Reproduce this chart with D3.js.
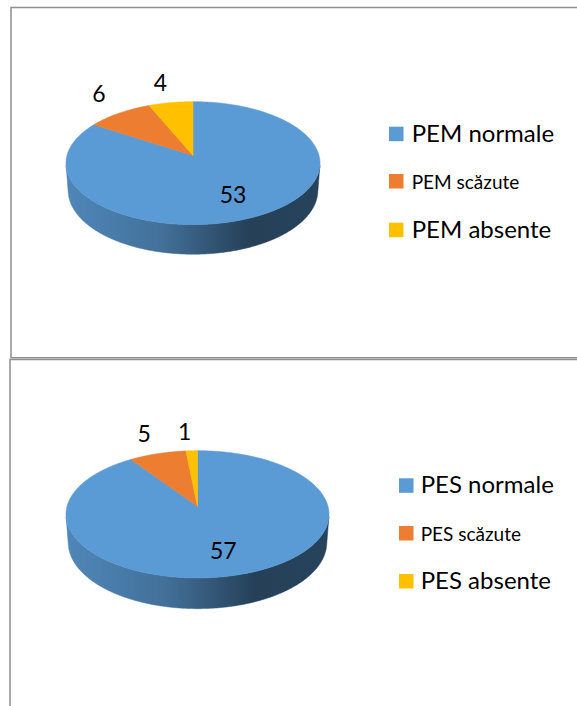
<!DOCTYPE html>
<html>
<head>
<meta charset="utf-8">
<script src="https://cdn.jsdelivr.net/npm/d3@7"></script>
<style>
  html, body { margin: 0; padding: 0; background: #ffffff; }
  svg { display: block; }
  text { font-family: Lato, "Open Sans", sans-serif; fill: #000; }
</style>
</head>
<body>
<script>
// ---------------- data ----------------
const pemCategories = ["PEM normale", "PEM scăzute", "PEM absente"];
const pemValues = [53, 6, 4];
const pesCategories = ["PES normale", "PES scăzute", "PES absente"];
const pesValues = [57, 5, 1];
const sliceColors = ["#5b9bd5", "#ed7d31", "#ffc000"];

// ---------------- layout ----------------
const W = 577, H = 706;
const panels = [
  { cats: pemCategories, vals: pemValues, cx: 193, top: 101.7, rx: 127,
    legX: 389, legTextX: 411.7, legBase: [141.7, 189, 237.7] },
  { cats: pesCategories, vals: pesValues, cx: 197.5, top: 450.7, rx: 131.5,
    legX: 399, legTextX: 420.7, legBase: [493.3, 541, 589] }
];
const legendFont = [24, 19, 24];
const labelFont = 23;

// 3D projection parameters
const D = 7, S = 0.48, C = Math.sqrt(1 - S * S), THICK = 0.25;

const svg = d3.select("body").append("svg").attr("width", W).attr("height", H);
const defs = svg.append("defs");

// frames
const frame = svg.append("g").attr("fill", "none").attr("stroke", "#8f8f8f").attr("stroke-width", 1.5);
frame.append("path").attr("d", `M${W + 5},7.5 H11 V357.8 H${W + 5}`);
frame.append("path").attr("d", `M${W + 5},359.6 H10 V${H + 5}`);

function makeProjector(p) {
  const raw = (X, Y, Z) => {
    const depth = D - (Z * C + Y * S);
    return [X * D / depth, (Z * S - Y * C) * D / depth];
  };
  let half = 0;
  for (let i = 0; i < 1440; i++) {
    const t = i / 1440 * 2 * Math.PI;
    half = Math.max(half, Math.abs(raw(Math.sin(t), 0, -Math.cos(t))[0]));
  }
  const topRaw = raw(0, 0, -1)[1];
  const k = p.rx / half;
  return (X, Y, Z) => {
    const r = raw(X, Y, Z);
    return [p.cx + k * r[0], p.top + k * (r[1] - topRaw)];
  };
}

const visMin = Math.acos(-1 / (D * C));
const visMax = 2 * Math.PI - visMin;
const shade = (col, f) => { const c = d3.rgb(col); return d3.rgb(c.r * f, c.g * f, c.b * f).formatHex(); };

panels.forEach((p, pi) => {
  const proj = makeProjector(p);
  const data = p.vals.map((v, i) => ({ value: v, name: p.cats[i], color: sliceColors[i], i }));
  const arcs = d3.pie().sort(null).value(d => d.value)(data);
  const g = svg.append("g");
  const line = d3.line();
  const arcPts = (a, b, Y) => {
    const n = Math.max(2, Math.ceil((b - a) / (Math.PI / 360)));
    return d3.range(n + 1).map(j => {
      const t = a + (b - a) * j / n;
      return proj(Math.sin(t), Y, -Math.cos(t));
    });
  };

  // side gradients
  arcs.forEach(a => {
    const gr = defs.append("linearGradient")
      .attr("id", `side-${pi}-${a.index}`)
      .attr("gradientUnits", "userSpaceOnUse")
      .attr("x1", p.cx - p.rx).attr("x2", p.cx + p.rx).attr("y1", 0).attr("y2", 0);
    [[0, 0.87], [0.38, 0.72], [0.72, 0.41], [1, 0.43]].forEach(([o, f]) =>
      gr.append("stop").attr("offset", o).attr("stop-color", shade(a.data.color, f)));
  });

  // sides
  arcs.forEach(a => {
    const s0 = Math.max(a.startAngle, visMin), s1 = Math.min(a.endAngle, visMax);
    if (s1 <= s0) return;
    const pts = arcPts(s0, s1, 0).concat(arcPts(s0, s1, -THICK).reverse());
    g.append("path").attr("d", line(pts) + "Z")
      .attr("fill", `url(#side-${pi}-${a.index})`)
      .attr("stroke", `url(#side-${pi}-${a.index})`).attr("stroke-width", 0.5);
  });

  // top faces
  const apex = proj(0, 0, 0);
  arcs.forEach(a => {
    const pts = [apex].concat(arcPts(a.startAngle, a.endAngle, 0));
    g.append("path").attr("d", line(pts) + "Z")
      .attr("fill", a.data.color).attr("stroke", a.data.color).attr("stroke-width", 0.6)
      .attr("stroke-linejoin", "round");
  });

  // data labels
  arcs.forEach(a => {
    const mid = (a.startAngle + a.endAngle) / 2;
    let x, y;
    if (a.endAngle - a.startAngle > Math.PI / 2) {
      const f = 0.62;
      [x, y] = proj(f * Math.sin(mid), 0, -f * Math.cos(mid));
      y += 4;
    } else {
      const e = proj(Math.sin(mid), 0, -Math.cos(mid));
      x = e[0] + 22 * Math.sin(mid) - 6;
      y = e[1] - 19.5;
    }
    g.append("text").attr("x", x).attr("y", y).attr("dy", "0.36em")
      .attr("text-anchor", "middle").attr("font-size", labelFont)
      .text(a.data.value);
  });

  // legend
  const leg = svg.append("g");
  data.forEach((d, i) => {
    leg.append("rect").attr("x", p.legX).attr("y", p.legBase[i] - 15)
      .attr("width", 14.5).attr("height", 14.5).attr("fill", d.color);
    leg.append("text").attr("x", p.legTextX).attr("y", p.legBase[i])
      .attr("font-size", legendFont[i]).text(d.name);
  });
});
</script>
</body>
</html>
